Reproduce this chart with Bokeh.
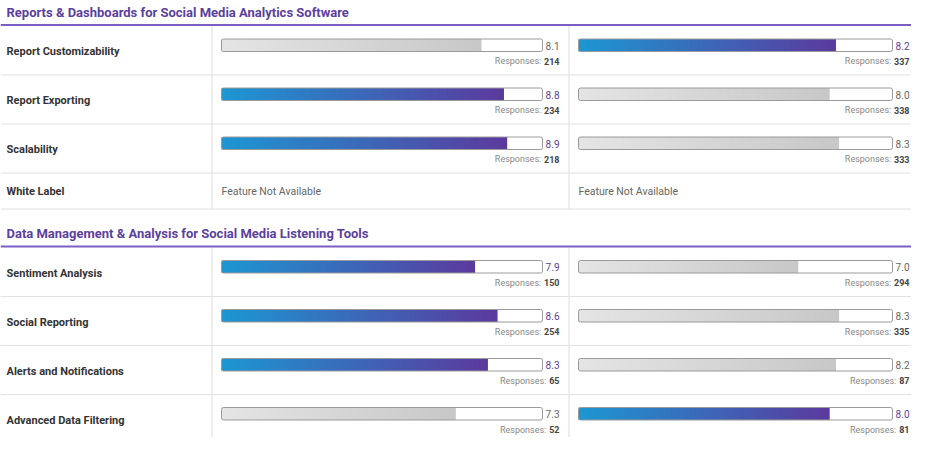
from bokeh.plotting import figure
from bokeh.models import Range1d, ColumnDataSource
from bokeh.core.properties import value
from bokeh.embed import file_html
from bokeh.resources import INLINE

# ---------------- data ----------------
section_titles = [
    "Reports & Dashboards for Social Media Analytics Software",
    "Data Management & Analysis for Social Media Listening Tools",
]
features_1 = ["Report Customizability", "Report Exporting", "Scalability", "White Label"]
left_scores_1 = [8.1, 8.8, 8.9, None]
left_responses_1 = [214, 234, 218, None]
right_scores_1 = [8.2, 8.0, 8.3, None]
right_responses_1 = [337, 338, 333, None]

features_2 = ["Sentiment Analysis", "Social Reporting", "Alerts and Notifications", "Advanced Data Filtering"]
left_scores_2 = [7.9, 8.6, 8.3, 7.3]
left_responses_2 = [150, 254, 65, 52]
right_scores_2 = [7.0, 8.3, 8.2, 8.0]
right_responses_2 = [294, 335, 87, 81]

score_max = 10
na_label = "Feature Not Available"
responses_label = "Responses:"

sections = [
    (section_titles[0], features_1, left_scores_1, left_responses_1, right_scores_1, right_responses_1),
    (section_titles[1], features_2, left_scores_2, left_responses_2, right_scores_2, right_responses_2),
]

# ---------------- layout / style ----------------
PW, PH = 911, 437
W, H = PW, PH            # data units == screen px

FONT = value("Roboto")
PURPLE_TEXT = "#5b3f9e"
PURPLE_LINE = "#7d5fc4"
SEP = "#e2e2e2"
LABEL_X = 6
COL_SEP = [211.5, 568.5]
TRACKS = [(221, 542), (578, 892)]
VAL_RIGHT = [559, 909]
ROW_H = 49
NA_ROW_H = 36
SECTION_GAP = 13
GRAD_COLOR = ((29, 150, 210), (91, 58, 158))
GRAD_GRAY = ((228, 228, 228), (200, 200, 200))
N_SLICES = 60

p = figure(width=PW, height=PH, x_range=Range1d(0, W), y_range=Range1d(H, 0),
           output_backend="svg", toolbar_location=None, min_border=0)
p.axis.visible = False
p.grid.visible = False
p.outline_line_color = None
p.background_fill_color = "white"
p.border_fill_color = "white"


def lerp(c0, c1, t):
    return "#%02x%02x%02x" % tuple(int(round(a + (b - a) * t)) for a, b in zip(c0, c1))


hsep = dict(x0=[], x1=[], y0=[], y1=[])
vsep = dict(x0=[], x1=[], y0=[], y1=[])
plines = dict(x0=[], x1=[], y0=[], y1=[])
tracks = dict(left=[], right=[], top=[], bottom=[])
slices = dict(left=[], right=[], top=[], bottom=[], color=[])
titles = dict(x=[], y=[], text=[])
labels = dict(x=[], y=[], text=[])
nas = dict(x=[], y=[], text=[])
vals = dict(x=[], y=[], text=[], color=[])
resp_lbl = dict(x=[], y=[], text=[])
resp_num = dict(x=[], y=[], text=[])

top = 0.0
for si, (title, feats, ls, lr, rs, rr) in enumerate(sections):
    titles["x"].append(LABEL_X)
    titles["y"].append(top + 11.5)
    titles["text"].append(title)
    plines["x0"].append(0); plines["x1"].append(W)
    plines["y0"].append(top + 24.5); plines["y1"].append(top + 24.5)
    y = top + 25.5
    for i, feat in enumerate(feats):
        scores = [ls[i], rs[i]]
        resps = [lr[i], rr[i]]
        avail = all(s is not None for s in scores)
        rh = ROW_H if avail else NA_ROW_H
        labels["x"].append(LABEL_X)
        labels["y"].append(y + (25.5 if avail else 18))
        labels["text"].append(feat)
        best = max(s for s in scores if s is not None) if avail else None
        for c in range(2):
            x0, x1 = TRACKS[c]
            if scores[c] is None:
                nas["x"].append(x0); nas["y"].append(y + 18.5); nas["text"].append(na_label)
                continue
            s = scores[c]
            hi = s == best
            bt, bb = y + 13, y + 25.5
            tracks["left"].append(x0); tracks["right"].append(x1)
            tracks["top"].append(bt); tracks["bottom"].append(bb)
            fw = (s / score_max) * (x1 - x0)
            cols = GRAD_COLOR if hi else GRAD_GRAY
            for k in range(N_SLICES):
                l = x0 + fw * k / N_SLICES
                r = x0 + fw * (k + 1) / N_SLICES
                slices["left"].append(l); slices["right"].append(min(r + 1.2, x0 + fw))
                slices["top"].append(bt); slices["bottom"].append(bb)
                slices["color"].append(lerp(cols[0], cols[1], k / (N_SLICES - 1)))
            vals["x"].append(VAL_RIGHT[c]); vals["y"].append(y + 19.5)
            vals["text"].append(f"{s:.1f}")
            vals["color"].append(PURPLE_TEXT if hi else "#666666")
            num = str(resps[c])
            resp_num["x"].append(VAL_RIGHT[c]); resp_num["y"].append(y + 35)
            resp_num["text"].append(num)
            resp_lbl["x"].append(VAL_RIGHT[c] - (len(num) * 5.1 + 3))
            resp_lbl["y"].append(y + 35)
            resp_lbl["text"].append(responses_label)
        for cx in COL_SEP:
            vsep["x0"].append(cx); vsep["x1"].append(cx)
            vsep["y0"].append(y); vsep["y1"].append(y + rh)
        y += rh
        if y < H:
            hsep["x0"].append(0); hsep["x1"].append(W)
            hsep["y0"].append(y); hsep["y1"].append(y)
    top = y + SECTION_GAP

p.segment("x0", "y0", "x1", "y1", source=ColumnDataSource(hsep), line_color=SEP, line_width=1.2)
p.segment("x0", "y0", "x1", "y1", source=ColumnDataSource(vsep), line_color=SEP, line_width=1.2)
p.segment("x0", "y0", "x1", "y1", source=ColumnDataSource(plines), line_color=PURPLE_LINE, line_width=2.2)

p.quad(left="left", right="right", top="top", bottom="bottom", source=ColumnDataSource(tracks),
       fill_color="white", line_color=None)
p.quad(left="left", right="right", top="top", bottom="bottom", source=ColumnDataSource(slices),
       fill_color="color", line_color=None)
p.quad(left="left", right="right", top="top", bottom="bottom", source=ColumnDataSource(tracks),
       fill_color=None, line_color="#9a9a9a", line_width=1, border_radius=2)

p.text("x", "y", "text", source=ColumnDataSource(titles), text_font=FONT, text_font_size="13px",
       text_font_style="bold", text_color=PURPLE_TEXT, text_baseline="middle", text_align="left")
p.text("x", "y", "text", source=ColumnDataSource(labels), text_font=FONT, text_font_size="11px",
       text_font_style="bold", text_color="#333333", text_baseline="middle", text_align="left")
p.text("x", "y", "text", source=ColumnDataSource(nas), text_font=FONT, text_font_size="10.5px",
       text_color="#666666", text_baseline="middle", text_align="left")
p.text("x", "y", "text", source=ColumnDataSource(vals), text_font=FONT, text_font_size="10px",
       text_color="color", text_baseline="middle", text_align="right")
p.text("x", "y", "text", source=ColumnDataSource(resp_num), text_font=FONT, text_font_size="9px",
       text_font_style="bold", text_color="#444444", text_baseline="middle", text_align="right")
p.text("x", "y", "text", source=ColumnDataSource(resp_lbl), text_font=FONT, text_font_size="9px",
       text_color="#888888", text_baseline="middle", text_align="right")

open("out.html", "w").write(file_html(p, INLINE))
